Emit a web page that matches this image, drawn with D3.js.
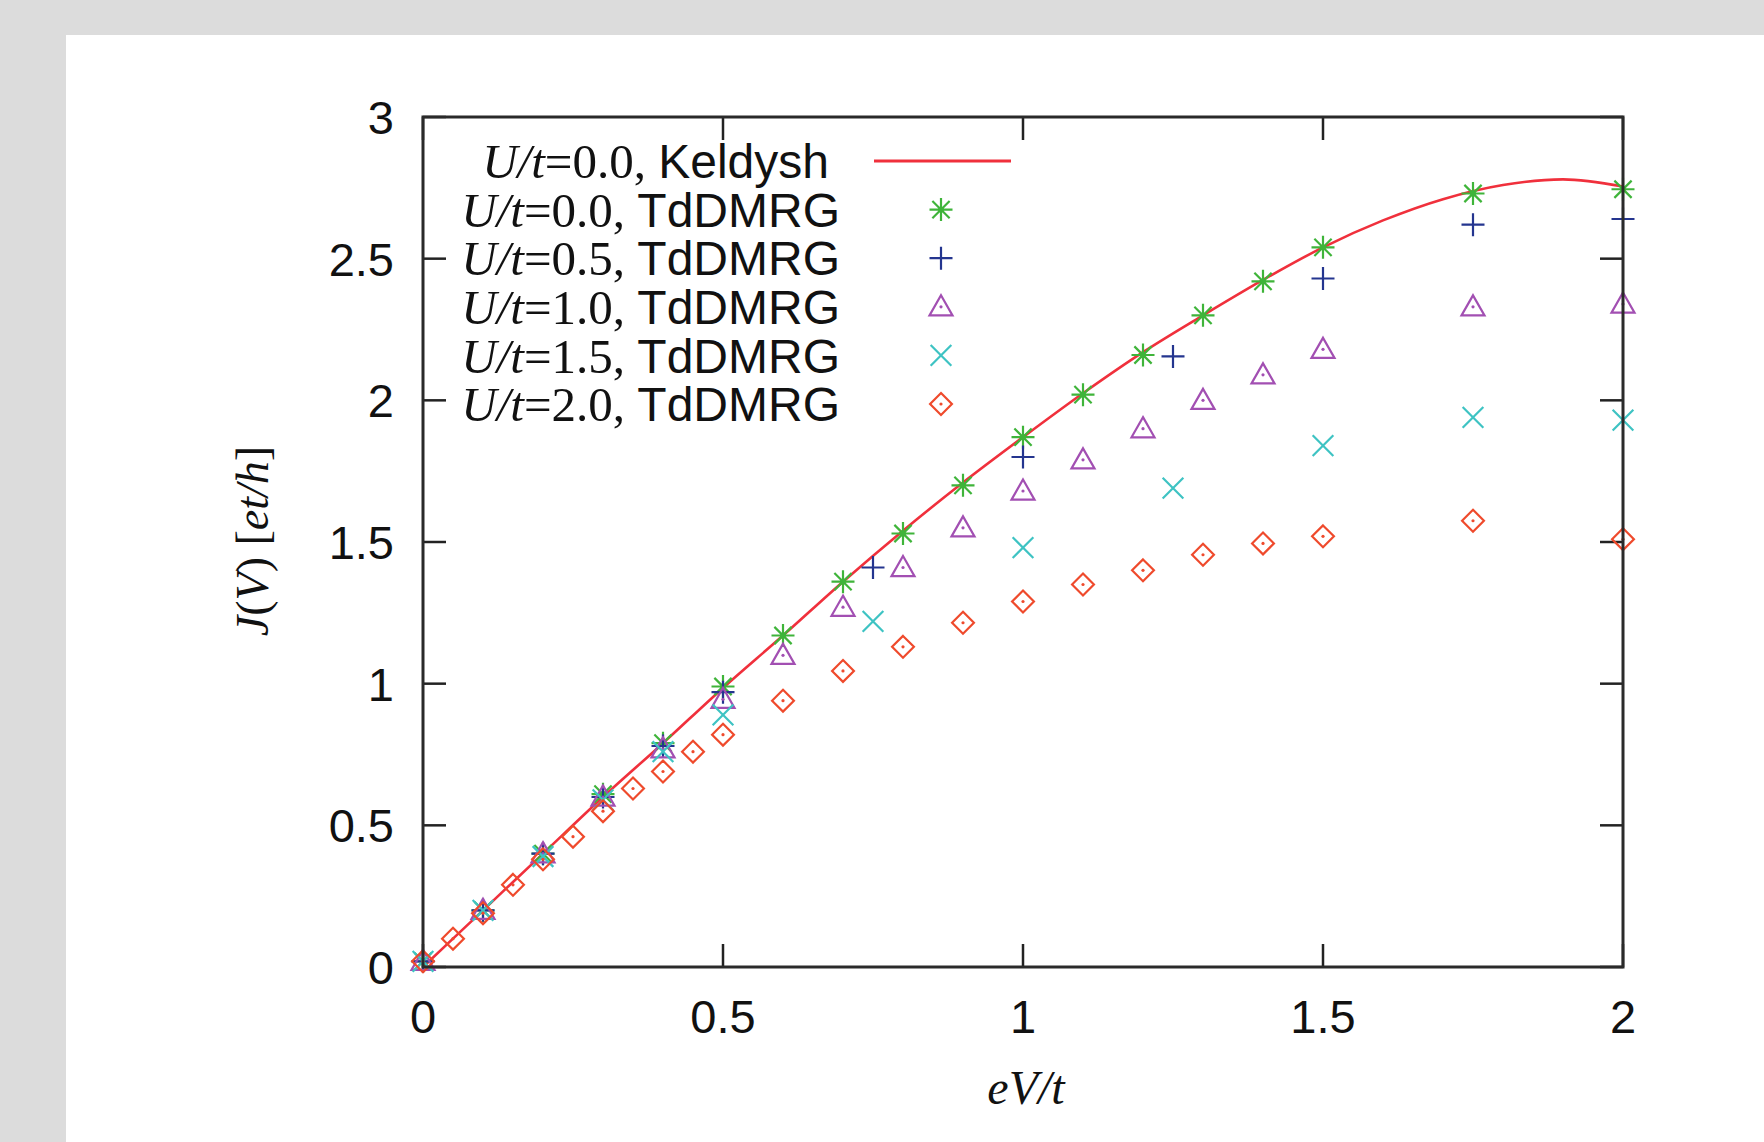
<!DOCTYPE html>
<html><head><meta charset="utf-8">
<script src="https://cdn.jsdelivr.net/npm/d3@7"></script>
<style>
html,body{margin:0;padding:0;background:#dcdcdc;}
svg{display:block;}
</style></head>
<body>
<svg id="chart" width="1764" height="1142"></svg>
<script>
// ---- data ----
const keldyshX = [0,0.1,0.2,0.3,0.4,0.5,0.6,0.7,0.8,0.9,1.0,1.1,1.2,1.3,1.4,1.5,1.6,1.7,1.8,1.9,2.0];
const keldyshY = [0,0.20,0.40,0.60,0.79,0.985,1.17,1.36,1.54,1.71,1.87,2.025,2.17,2.30,2.425,2.54,2.635,2.71,2.76,2.78,2.755];

const xU00 = [0,0.1,0.2,0.3,0.4,0.5,0.6,0.7,0.8,0.9,1.0,1.1,1.2,1.3,1.4,1.5,1.75,2.0];
const yU00 = [0.02,0.20,0.40,0.61,0.79,0.99,1.17,1.36,1.53,1.70,1.87,2.02,2.16,2.30,2.42,2.54,2.73,2.745];

const xU05 = [0,0.1,0.2,0.3,0.4,0.5,0.75,1.0,1.25,1.5,1.75,2.0];
const yU05 = [0.02,0.20,0.40,0.60,0.78,0.97,1.41,1.80,2.155,2.43,2.62,2.64];

const xU10 = [0,0.1,0.2,0.3,0.4,0.5,0.6,0.7,0.8,0.9,1.0,1.1,1.2,1.3,1.4,1.5,1.75,2.0];
const yU10 = [0.02,0.20,0.40,0.60,0.77,0.945,1.10,1.27,1.41,1.55,1.68,1.79,1.90,2.00,2.09,2.18,2.33,2.34];

const xU15 = [0,0.1,0.2,0.3,0.4,0.5,0.75,1.0,1.25,1.5,1.75,2.0];
const yU15 = [0.02,0.20,0.39,0.59,0.76,0.89,1.22,1.48,1.69,1.84,1.94,1.93];

const xU20 = [0,0.05,0.1,0.15,0.2,0.25,0.3,0.35,0.4,0.45,0.5,0.6,0.7,0.8,0.9,1.0,1.1,1.2,1.3,1.4,1.5,1.75,2.0];
const yU20 = [0.02,0.10,0.19,0.29,0.38,0.46,0.55,0.63,0.69,0.76,0.82,0.94,1.045,1.13,1.215,1.29,1.35,1.40,1.455,1.495,1.52,1.575,1.51];

const xTicks = [0,0.5,1,1.5,2];
const xTickLabels = ["0","0.5","1","1.5","2"];
const yTicks = [0,0.5,1,1.5,2,2.5,3];
const yTickLabels = ["0","0.5","1","1.5","2","2.5","3"];

const seriesNames = ["0.0","0.5","1.0","1.5","2.0"];

// ---- layout ----
const W = 1764, H = 1142;
const L = 423, R = 1623, T = 117, B = 967;
const svg = d3.select("#chart");

svg.append("rect").attr("x",66).attr("y",35).attr("width",W-66).attr("height",H-35).attr("fill","#ffffff");

const x = d3.scaleLinear().domain([0,2]).range([L,R]);
const y = d3.scaleLinear().domain([0,3]).range([B,T]);

const sans = "'Liberation Sans', Arial, Helvetica, sans-serif";
const serif = "'Liberation Serif', 'Times New Roman', serif";
const axisColor = "#222";

// ticks (inward, mirrored)
const tl = 23;
const g = svg.append("g");
xTicks.forEach(v=>{
  g.append("line").attr("x1",x(v)).attr("x2",x(v)).attr("y1",B).attr("y2",B-tl).attr("stroke",axisColor).attr("stroke-width",2.5);
  g.append("line").attr("x1",x(v)).attr("x2",x(v)).attr("y1",T).attr("y2",T+tl).attr("stroke",axisColor).attr("stroke-width",2.5);
});
yTicks.forEach(v=>{
  g.append("line").attr("x1",L).attr("x2",L+tl).attr("y1",y(v)).attr("y2",y(v)).attr("stroke",axisColor).attr("stroke-width",2.5);
  g.append("line").attr("x1",R).attr("x2",R-tl).attr("y1",y(v)).attr("y2",y(v)).attr("stroke",axisColor).attr("stroke-width",2.5);
});
// tick labels
xTicks.forEach((v,i)=>{
  svg.append("text").attr("x",x(v)).attr("y",B+66).attr("text-anchor","middle")
    .attr("font-family",sans).attr("font-size",47).attr("fill","#111").text(xTickLabels[i]);
});
yTicks.forEach((v,i)=>{
  svg.append("text").attr("x",L-29).attr("y",y(v)).attr("dy","0.36em").attr("text-anchor","end")
    .attr("font-family",sans).attr("font-size",47).attr("fill","#111").text(yTickLabels[i]);
});

// axis titles
const xt = svg.append("text").attr("x",1026).attr("y",1104).attr("text-anchor","middle")
  .attr("font-family",serif).attr("font-size",48).attr("fill","#111");
xt.append("tspan").attr("font-style","italic").text("eV/t");

const yt = svg.append("text").attr("transform","translate(268,541) rotate(-90)").attr("text-anchor","middle")
  .attr("font-family",serif).attr("font-size",46).attr("fill","#111");
yt.append("tspan").attr("font-style","italic").text("J");
yt.append("tspan").text("(");
yt.append("tspan").attr("font-style","italic").text("V");
yt.append("tspan").text(") [");
yt.append("tspan").attr("font-style","italic").text("et/h");
yt.append("tspan").text("]");

// marker paths
const sz = 11.5;
function markerPath(type, cx, cy){
  const s = sz;
  if(type==="star"){
    const d = s*0.75;
    return `M${cx-s},${cy}L${cx+s},${cy}M${cx},${cy-s}L${cx},${cy+s}M${cx-d},${cy-d}L${cx+d},${cy+d}M${cx-d},${cy+d}L${cx+d},${cy-d}`;
  }
  if(type==="plus") return `M${cx-s},${cy}L${cx+s},${cy}M${cx},${cy-s}L${cx},${cy+s}`;
  if(type==="cross"){ const d=s*0.9; return `M${cx-d},${cy-d}L${cx+d},${cy+d}M${cx-d},${cy+d}L${cx+d},${cy-d}`; }
  if(type==="tri"){
    const h = s*1.0;
    return `M${cx},${cy-h}L${cx+s},${cy+h*0.75}L${cx-s},${cy+h*0.75}Z`;
  }
  if(type==="dia"){ const d=s*0.95; return `M${cx},${cy-d}L${cx+d},${cy}L${cx},${cy+d}L${cx-d},${cy}Z`; }
}
const styles = [
  {type:"star", color:"#3fb43a", dot:true},
  {type:"plus", color:"#24358f", dot:false},
  {type:"tri",  color:"#a24fb2", dot:true},
  {type:"cross",color:"#3ec3c3", dot:false},
  {type:"dia",  color:"#ef4a2c", dot:true}
];
const seriesX = [xU00,xU05,xU10,xU15,xU20];
const seriesY = [yU00,yU05,yU10,yU15,yU20];

// Keldysh line
const kdata = keldyshX.map((v,i)=>[v,keldyshY[i]]);
svg.append("path").datum(kdata)
  .attr("d", d3.line().x(d=>x(d[0])).y(d=>y(d[1])).curve(d3.curveMonotoneX))
  .attr("fill","none").attr("stroke","#f0303c").attr("stroke-width",2.6);

function drawMarker(sel, st, cx, cy){
  sel.append("path").attr("d",markerPath(st.type,cx,cy)).attr("fill","none")
    .attr("stroke",st.color).attr("stroke-width",2.2).attr("stroke-linejoin","miter");
  if(st.dot) sel.append("circle").attr("cx",cx).attr("cy",cy).attr("r", st.type==="star"?2.6:1.6).attr("fill",st.color);
}

styles.forEach((st,k)=>{
  const gg = svg.append("g");
  seriesX[k].forEach((v,i)=>{
    drawMarker(gg, st, x(v), y(seriesY[k][i]));
  });
});

// frame
svg.append("rect").attr("x",L).attr("y",T).attr("width",R-L).attr("height",B-T)
  .attr("fill","none").attr("stroke","#2a2a2a").attr("stroke-width",3);

// legend
const lg = svg.append("g");
const rowY0 = 161, rowStep = 48.6;
function legendLabel(yy, xEnd, tail){
  const t = lg.append("text").attr("x",xEnd).attr("y",yy).attr("dy","0.36em").attr("text-anchor","end")
    .attr("font-size",48).attr("fill","#111");
  t.append("tspan").attr("font-family",serif).attr("font-style","italic").attr("font-size",49).text("U/t");
  t.append("tspan").attr("font-family",serif).attr("font-size",49).text("=" + tail[0] + ", ");
  t.append("tspan").attr("font-family",sans).text(tail[1]);
}
legendLabel(rowY0, 829, ["0.0","Keldysh"]);
lg.append("line").attr("x1",874).attr("x2",1011).attr("y1",rowY0).attr("y2",rowY0)
  .attr("stroke","#f0303c").attr("stroke-width",3);
seriesNames.forEach((nm,k)=>{
  const yy = rowY0 + rowStep*(k+1);
  legendLabel(yy, 840, [nm,"TdDMRG"]);
  drawMarker(lg, styles[k], 941, yy);
});
</script>
</body></html>
